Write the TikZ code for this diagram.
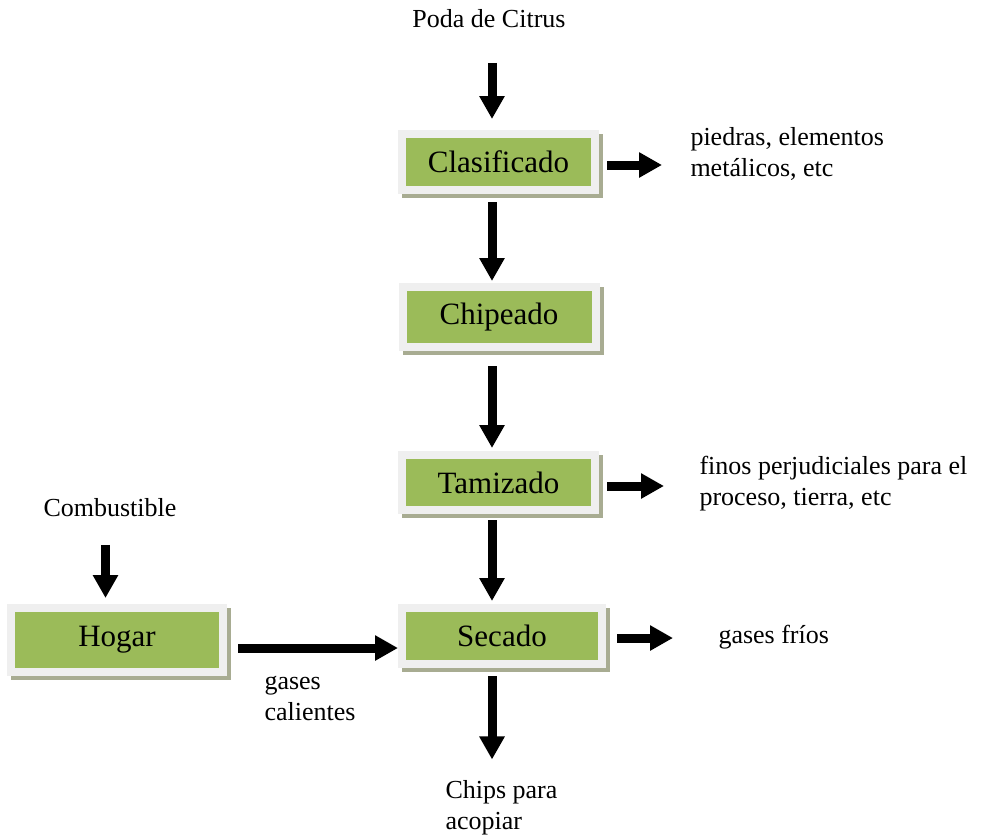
\documentclass[tikz,border=0pt]{standalone}
\usepackage{fontspec}
\setmainfont{Liberation Serif}
\usetikzlibrary{arrows.meta}

\definecolor{verde}{RGB}{155,187,89}
\definecolor{marco}{RGB}{239,239,239}
\definecolor{sombra}{RGB}{168,172,146}

\begin{document}
\begin{tikzpicture}[x=0.5pt,y=-0.5pt,-{Triangle[length=11.5pt,width=12pt]},line width=4.5pt,
		proc/.style={rectangle,fill=verde,draw=marco,line width=4pt,
			font=\fontsize{15.5}{18}\selectfont,
			preaction={fill=sombra,draw=sombra,line width=4pt,transform canvas={shift={(2pt,-2pt)}}}},
		txt/.style={inner sep=0pt,align=left,font=\fontsize{13}{15.5}\selectfont}]

		\useasboundingbox (0,0) rectangle (984,837);

		% etapas
		\node[proc,minimum width=96.5pt,minimum height=28pt] (Cla) at (498.5,162) {Clasificado};
		\node[proc,minimum width=96.5pt,minimum height=30pt] (Chi) at (499,317) {Chipeado};
		\node[proc,minimum width=96.5pt,minimum height=27.5pt] (Tam) at (498.5,482.5) {Tamizado};
		\node[proc,minimum width=100pt,minimum height=28pt] (Sec) at (502,636) {Secado};
		\node[proc,minimum width=106pt,minimum height=32pt] (Hog) at (117,640) {Hogar};

		% entradas y salidas
		\node[txt,anchor=base] (Pod) at (489,27) {Poda de Citrus};
		\node[txt,anchor=base] (Com) at (110,516) {Combustible};
		\node[txt,anchor=base west] (Pie) at (686,176) {piedras, elementos\\metálicos, etc};
		\node[txt,anchor=base west] (Fin) at (695,505) {finos perjudiciales para el\\proceso, tierra, etc};
		\node[txt,anchor=base west] (Gfr) at (714,643) {gases fríos};
		\node[txt,anchor=base west] (Gca) at (260,720) {gases\\calientes};
		\node[txt,anchor=base west] (Chp) at (441,829) {Chips para\\acopiar};

		\coordinate (eje) at (492,0);

		\draw ([yshift=-15.5pt]Pod.south -| eje) -- ([yshift=5.5pt]Cla.north -| eje);
		\draw ([yshift=-4pt]Cla.south -| eje) -- ([yshift=1pt]Chi.north -| eje);
		\draw ([yshift=-7.5pt]Chi.south -| eje) -- ([yshift=1.5pt]Tam.north -| eje);
		\draw ([yshift=-3pt]Tam.south -| eje) -- ([yshift=1.5pt]Sec.north -| eje);
		\draw ([yshift=-4pt]Sec.south -| eje) -- ([yshift=8pt]Chp.north -| eje);
		\draw ([xshift=-2.25pt,yshift=-12pt]Com.south) -- ([xshift=-5.75pt,yshift=3pt]Hog.north);

		\draw ([xshift=4pt,yshift=-1.5pt]Cla.east) coordinate (c1) -- ([xshift=-12pt]Pie.west |- c1);
		\draw ([xshift=4pt,yshift=-1.75pt]Tam.east) coordinate (c2) -- ([xshift=-15.5pt]Fin.west |- c2);
		\draw ([xshift=5.5pt,yshift=-1pt]Sec.east) coordinate (c3) -- ([xshift=-20.5pt]Gfr.west |- c3);
		\draw ([xshift=5.5pt,yshift=-4pt]Hog.east) coordinate (c4) -- (Sec.west |- c4);
	\end{tikzpicture}
\end{document}
